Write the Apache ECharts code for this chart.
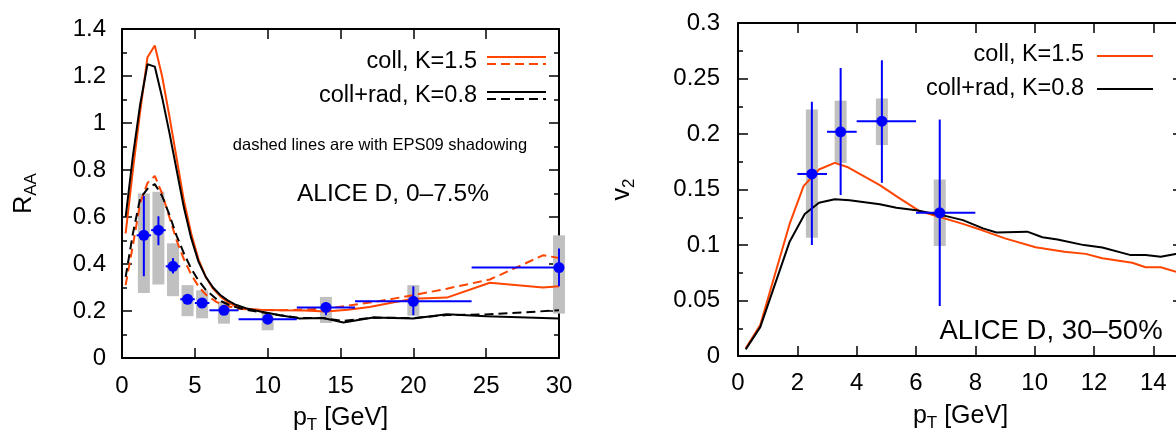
<!DOCTYPE html>
<html>
<head>
<meta charset="utf-8">
<script src="https://cdn.jsdelivr.net/npm/echarts@6/dist/echarts.min.js"></script>
<style>
html,body{margin:0;padding:0;background:#fff;}
#chart{width:1176px;height:439px;}
</style>
</head>
<body>
<div id="chart"></div>
<script>
// ---------- Left panel: R_AA ----------
const raaTicksX = [0, 30, 5];
const raaTicksY = [0, 1.4, 0.2];
// model curves [pT, R_AA]
const raaCollK15 = [[0.25,0.53],[0.75,0.80],[1.25,1.05],[1.75,1.28],[2.25,1.33],[2.75,1.20],[3.25,1.03],[3.75,0.85],[4.25,0.67],[4.75,0.53],[5.25,0.42],[5.75,0.345],[6.25,0.295],[6.75,0.262],[7.25,0.238],[7.75,0.222],[8.5,0.21],[9.5,0.205],[11,0.203],[12.5,0.202],[14,0.198],[15.5,0.205],[17,0.217],[18.5,0.235],[20,0.252],[22.3,0.257],[25.25,0.32],[28.9,0.30],[30,0.305]];
const raaCollRadK08 = [[0.25,0.60],[0.75,0.86],[1.25,1.08],[1.75,1.25],[2.25,1.24],[2.75,1.11],[3.25,0.96],[3.75,0.80],[4.25,0.64],[4.75,0.51],[5.25,0.41],[5.75,0.345],[6.25,0.30],[6.75,0.268],[7.25,0.245],[7.75,0.228],[8.5,0.212],[9.5,0.198],[10.84,0.182],[12.2,0.168],[13.8,0.17],[15.2,0.151],[17.25,0.172],[20,0.168],[22.3,0.186],[25,0.178],[30,0.168]];
const raaCollK15Eps = [[0.25,0.31],[0.75,0.48],[1.25,0.66],[1.75,0.745],[2.25,0.775],[2.75,0.70],[3.25,0.60],[3.75,0.50],[4.25,0.42],[4.75,0.355],[5.25,0.305],[5.75,0.27],[6.5,0.238],[7,0.224],[8,0.21],[9,0.205],[11,0.203],[14,0.21],[17.25,0.238],[20,0.267],[22.3,0.295],[25.25,0.334],[28.9,0.437],[30,0.426]];
const raaCollRadK08Eps = [[0.25,0.345],[0.75,0.53],[1.25,0.68],[1.75,0.72],[2.25,0.74],[2.75,0.69],[3.25,0.61],[3.75,0.52],[4.25,0.445],[4.75,0.38],[5.25,0.33],[5.75,0.29],[6.5,0.25],[7.5,0.222],[8.5,0.205],[9.5,0.195],[10.84,0.182],[12.2,0.17],[13.8,0.17],[15.2,0.158],[17.25,0.172],[20,0.17],[22.3,0.183],[25,0.185],[30,0.203]];
// ALICE D R_AA data
const raaPt     = [1.5, 2.5, 3.5, 4.5, 5.5, 7, 10, 14, 20, 30];
const raaVal    = [0.522, 0.544, 0.39, 0.25, 0.234, 0.203, 0.165, 0.215, 0.241, 0.385];
const raaPtLo   = [1, 2, 3, 4, 5, 6, 8, 12, 16, 24];
const raaPtHi   = [2, 3, 4, 5, 6, 8, 12, 16, 24, 30];
const raaStatLo = [0.348, 0.48, 0.36, 0.232, 0.216, 0.19, 0.155, 0.182, 0.182, 0.305];
const raaStatHi = [0.689, 0.603, 0.425, 0.268, 0.252, 0.215, 0.175, 0.238, 0.305, 0.466];
const raaSysLo  = [0.277, 0.313, 0.263, 0.178, 0.169, 0.146, 0.118, 0.149, 0.18, 0.189];
const raaSysHi  = [0.70, 0.707, 0.488, 0.31, 0.288, 0.241, 0.189, 0.26, 0.31, 0.522];

// ---------- Right panel: v2 ----------
const v2TicksX = [0, 15, 2];
const v2TicksY = [0, 0.3, 0.05];
const v2CollK15 = [[0.26,0.0069],[0.75,0.028],[1.74,0.119],[2.21,0.153],[2.73,0.168],[3.26,0.174],[3.71,0.170],[4.78,0.154],[5.45,0.142],[6.12,0.1305],[6.46,0.128],[7.58,0.119],[8.26,0.113],[9.0,0.106],[10.03,0.098],[11.0,0.094],[11.72,0.092],[12.28,0.088],[13.29,0.084],[13.74,0.080],[14.25,0.080],[15,0.074]];
const v2CollRadK08 = [[0.26,0.006],[0.75,0.026],[1.74,0.103],[2.25,0.128],[2.73,0.138],[3.26,0.1413],[3.76,0.1404],[4.78,0.1368],[5.34,0.1335],[6.01,0.1314],[7.02,0.126],[7.58,0.1224],[8.26,0.115],[8.71,0.1113],[9.75,0.112],[10.26,0.107],[10.77,0.105],[11.66,0.0999],[12.28,0.0978],[13.24,0.0909],[13.74,0.0909],[14.25,0.0894],[14.75,0.0918],[15,0.092]];
const v2Pt     = [2.49, 3.46, 4.85, 6.8];
const v2Val    = [0.164, 0.202, 0.2115, 0.129];
const v2PtLo   = [2, 3, 4, 6];
const v2PtHi   = [3, 4, 6, 8];
const v2StatLo = [0.1, 0.145, 0.156, 0.045];
const v2StatHi = [0.229, 0.2595, 0.2664, 0.213];
const v2SysLo  = [0.1065, 0.174, 0.19, 0.099];
const v2SysHi  = [0.222, 0.23, 0.232, 0.159];

const legendLabels = ['coll, K=1.5', 'coll+rad, K=0.8'];

// ---------- styles ----------
const FONT = "'Liberation Sans', Arial, Helvetica, sans-serif";
const ORANGE = '#ff4500';
const BLUE = '#0000ff';
const GRAY = '#c0c0c0';
const DASH = [9, 5];
const TICK_FS = 24;

const chart = echarts.init(document.getElementById('chart'), null, {renderer: 'canvas'});

function nameRich() {
  return {
    fontSize: 25, fontFamily: FONT, color: '#000',
    rich: {
      a: {fontSize: 25, fontFamily: FONT, color: '#000', lineHeight: 28},
      s: {fontSize: 17, fontFamily: FONT, color: '#000', padding: [14, 0, 0, 0], lineHeight: 19}
    }
  };
}

function valueAxis(grid, pos, ext, showLabels, extra) {
  const ax = {
    type: 'value', gridIndex: grid, position: pos,
    min: ext[0], max: ext[1], interval: ext[2],
    axisLine: {show: true, onZero: false, lineStyle: {color: '#000', width: 2}},
    axisTick: {show: true, inside: true, length: 10, lineStyle: {color: '#000', width: 1.5}},
    axisLabel: {show: showLabels, fontSize: TICK_FS, fontFamily: FONT, color: '#000', margin: 16},
    splitLine: {show: false}
  };
  return Object.assign(ax, extra || {});
}

function errData(pt, val, lo, hi, slo, shi) {
  return pt.map((x, i) => [x, val[i], lo[i], hi[i], slo[i], shi[i]]);
}
function sysData(pt, val, slo, shi) {
  return pt.map((x, i) => [x, val[i], slo[i], shi[i]]);
}

function renderSys(params, api) {
  const x = api.value(0);
  const top = api.coord([x, api.value(3)]);
  const bot = api.coord([x, api.value(2)]);
  const w = 12;
  return {
    type: 'rect',
    shape: {x: top[0] - w / 2, y: top[1], width: w, height: bot[1] - top[1]},
    style: {fill: GRAY}
  };
}
function renderErr(params, api) {
  const x = api.value(0), y = api.value(1);
  const c = api.coord([x, y]);
  const l = api.coord([api.value(2), y]);
  const r = api.coord([api.value(3), y]);
  const b = api.coord([x, api.value(4)]);
  const t = api.coord([x, api.value(5)]);
  return {
    type: 'group',
    children: [
      {type: 'line', shape: {x1: l[0], y1: l[1], x2: r[0], y2: r[1]}, style: {stroke: BLUE, lineWidth: 2}},
      {type: 'line', shape: {x1: b[0], y1: b[1], x2: t[0], y2: t[1]}, style: {stroke: BLUE, lineWidth: 2}},
      {type: 'circle', shape: {cx: c[0], cy: c[1], r: 5.5}, style: {fill: BLUE}}
    ]
  };
}

function lineSeries(data, color, dashed, xi, yi) {
  return {
    type: 'line', xAxisIndex: xi, yAxisIndex: yi, data: data,
    showSymbol: false, symbol: 'none', smooth: false, silent: true,
    lineStyle: {color: color, width: 2, type: dashed ? DASH : 'solid'},
    z: 3
  };
}

function legendText(text, x, y) {
  return {type: 'text', x: x, y: y, style: {text: text, fontSize: 23.5, fontFamily: FONT, fill: '#000', align: 'right', verticalAlign: 'middle', textAlign: 'right', textVerticalAlign: 'middle'}, z: 10};
}
function legendLine(x1, x2, y, color, dashed) {
  return {type: 'line', shape: {x1: x1, y1: y, x2: x2, y2: y}, style: {stroke: color, lineWidth: 2, lineDash: dashed ? DASH : null}, z: 10};
}
function plainText(text, x, y, size) {
  return {type: 'text', x: x, y: y, style: {text: text, fontSize: size, fontFamily: FONT, fill: '#000', align: 'center', verticalAlign: 'middle', textAlign: 'center', textVerticalAlign: 'middle'}, z: 10};
}

const option = {
  animation: false,
  backgroundColor: '#fff',
  grid: [
    {left: 122, top: 29, width: 437, height: 329, containLabel: false, outerBoundsMode: 'none'},
    {left: 738, top: 23, width: 445, height: 333, containLabel: false, outerBoundsMode: 'none'}
  ],
  xAxis: [
    valueAxis(0, 'bottom', raaTicksX, true, {
      name: '{a|p}{s|T}{a| [GeV]}', nameLocation: 'middle', nameGap: 44, nameTextStyle: nameRich()
    }),
    valueAxis(0, 'top', raaTicksX, false),
    valueAxis(1, 'bottom', v2TicksX, true, {
      name: '{a|p}{s|T}{a| [GeV]}', nameLocation: 'middle', nameGap: 46, nameTextStyle: nameRich(),
      axisLabel: {show: true, fontSize: TICK_FS, fontFamily: FONT, color: '#000', margin: 15, showMaxLabel: false}
    }),
    valueAxis(1, 'top', v2TicksX, false)
  ],
  yAxis: [
    valueAxis(0, 'left', raaTicksY, true, {
      minorTick: {show: true, splitNumber: 2, length: 5, lineStyle: {color: '#000', width: 1.5}},
      name: '{a|R}{s|AA}', nameLocation: 'middle', nameRotate: 90, nameGap: 84, nameTextStyle: nameRich()
    }),
    valueAxis(0, 'right', raaTicksY, false, {
      minorTick: {show: true, splitNumber: 2, length: 5, lineStyle: {color: '#000', width: 1.5}}
    }),
    valueAxis(1, 'left', v2TicksY, true, {
      minorTick: {show: true, splitNumber: 2, length: 5, lineStyle: {color: '#000', width: 1.5}},
      name: '{a|v}{s|2}', nameLocation: 'middle', nameRotate: 90, nameGap: 102, nameTextStyle: nameRich(),
      axisLabel: {show: true, fontSize: TICK_FS, fontFamily: FONT, color: '#000', margin: 18}
    }),
    valueAxis(1, 'right', v2TicksY, false, {
      minorTick: {show: true, splitNumber: 2, length: 5, lineStyle: {color: '#000', width: 1.5}}
    })
  ],
  series: [
    {type: 'custom', xAxisIndex: 0, yAxisIndex: 0, renderItem: renderSys, data: sysData(raaPt, raaVal, raaSysLo, raaSysHi), z: 1, silent: true},
    lineSeries(raaCollK15, ORANGE, false, 0, 0),
    lineSeries(raaCollK15Eps, ORANGE, true, 0, 0),
    lineSeries(raaCollRadK08, '#000', false, 0, 0),
    lineSeries(raaCollRadK08Eps, '#000', true, 0, 0),
    {type: 'custom', xAxisIndex: 0, yAxisIndex: 0, renderItem: renderErr, data: errData(raaPt, raaVal, raaPtLo, raaPtHi, raaStatLo, raaStatHi), z: 5, silent: true},

    {type: 'custom', xAxisIndex: 2, yAxisIndex: 2, renderItem: renderSys, data: sysData(v2Pt, v2Val, v2SysLo, v2SysHi), z: 1, silent: true},
    lineSeries(v2CollK15, ORANGE, false, 2, 2),
    lineSeries(v2CollRadK08, '#000', false, 2, 2),
    {type: 'custom', xAxisIndex: 2, yAxisIndex: 2, renderItem: renderErr, data: errData(v2Pt, v2Val, v2PtLo, v2PtHi, v2StatLo, v2StatHi), z: 5, silent: true}
  ],
  graphic: [
    legendText(legendLabels[0], 477, 62),
    legendLine(487, 546, 57, ORANGE, false),
    legendLine(487, 546, 64, ORANGE, true),
    legendText(legendLabels[1], 477, 96),
    legendLine(487, 546, 92, '#000', false),
    legendLine(487, 546, 99, '#000', true),
    plainText('dashed lines are with EPS09 shadowing', 380, 145, 16.5),
    plainText('ALICE D, 0\u20137.5%', 393, 194, 24.5),
    legendText(legendLabels[0], 1084, 55),
    legendLine(1097, 1153, 56, ORANGE, false),
    legendText(legendLabels[1], 1084, 89),
    legendLine(1097, 1153, 89, '#000', false),
    plainText('ALICE D, 30\u201350%', 1051, 331, 27.5)
  ]
};
chart.setOption(option);
</script>
</body>
</html>
